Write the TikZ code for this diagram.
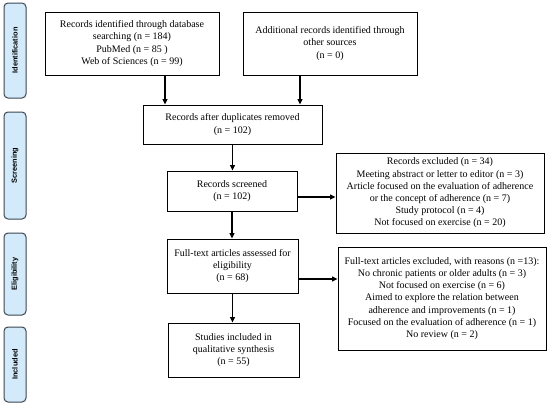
\documentclass[tikz,border=0pt]{standalone}
\usepackage{fontspec}
\setmainfont{Liberation Serif}
\newfontfamily\phasefont{Liberation Sans}
\usetikzlibrary{arrows.meta}
\definecolor{phasefill}{HTML}{D2EAFA}
\definecolor{phasedraw}{HTML}{3C4650}
\tikzset{
  box/.style={draw=black, line width=0.9pt, align=center, inner sep=0pt,
    font=\fontsize{10}{12.2}\selectfont},
  phase/.style={draw=phasedraw, fill=phasefill, line width=1pt, rounded corners=4pt,
    minimum width=22pt, inner sep=0pt},
  phasetxt/.style={rotate=90, font=\phasefont\bfseries\fontsize{7.4}{8}\selectfont},
  arr/.style={line width=1.3pt, -{Triangle[length=5.5pt,width=5pt]}}
}
\begin{document}
\begin{tikzpicture}[x=1pt,y=-1pt]
\useasboundingbox (0,0) rectangle (550,407);
% phases
\node[phase, minimum height=95pt] (p1) at (15,50.5) {};
\node[phasetxt] (t1) at (p1) {Identification};
\node[phase, minimum height=107pt] (p2) at (15,165.5) {};
\node[phasetxt] (t2) at (p2) {Screening};
\node[phase, minimum height=82pt] (p3) at (15,274) {};
\node[phasetxt] (t3) at (p3) {Eligibility};
\node[phase, minimum height=75pt] (p4) at (15,364.5) {};
\node[phasetxt] (t4) at (p4) {Included};
% boxes
\node[box, minimum width=174pt, minimum height=63pt] (id1) at (132,43.5)
  {Records identified through database\\searching (n = 184)\\PubMed (n = 85 )\\Web of Sciences (n = 99)};
\node[box, minimum width=174pt, minimum height=63pt] (add) at (330,43.5)
  {Additional records identified through\\other sources\\(n = 0)};
\node[box, minimum width=179pt, minimum height=39pt] (dup) at (232.5,124.5)
  {Records after duplicates removed\\(n = 102)};
\node[box, minimum width=130pt, minimum height=40pt] (scr) at (232,191)
  {Records screened\\(n = 102)};
\node[box, minimum width=208pt, minimum height=80pt] (exc1) at (440,193)
  {Records excluded (n = 34)\\Meeting abstract or letter to editor (n = 3)\\Article focused on the evaluation of adherence\\or the concept of adherence (n = 7)\\Study protocol (n = 4)\\Not focused on exercise (n = 20)};
\node[box, minimum width=131pt, minimum height=54pt] (full) at (232.5,266)
  {Full-text articles assessed for\\eligibility\\(n = 68)};
\node[box, minimum width=208pt, minimum height=103pt] (exc2) at (442,298.5)
  {Full-text articles excluded, with reasons (n =13):\\No chronic patients or older adults (n = 3)\\Not focused on exercise (n = 6)\\Aimed to explore the relation between\\adherence and improvements (n = 1)\\Focused on the evaluation of adherence (n = 1)\\No review (n = 2)};
\node[box, minimum width=131pt, minimum height=54pt] (inc) at (233.5,350)
  {Studies included in\\qualitative synthesis\\(n = 55)};
% arrows
\draw[arr] ([xshift=33pt]id1.south) -- ([xshift=33pt]id1.south |- dup.north);
\draw[arr] ([xshift=-30pt]add.south) -- ([xshift=-30pt]add.south |- dup.north);
\draw[arr] (dup.south) -- (dup.south |- scr.north);
\draw[arr] ([yshift=-6pt]scr.east) -- ([yshift=-6pt]scr.east -| exc1.west);
\draw[arr] (scr.south) -- (scr.south |- full.north);
\draw[arr] ([yshift=-13pt]full.east) -- ([yshift=-13pt]full.east -| exc2.west);
\draw[arr] (full.south) -- (full.south |- inc.north);
\end{tikzpicture}
\end{document}
